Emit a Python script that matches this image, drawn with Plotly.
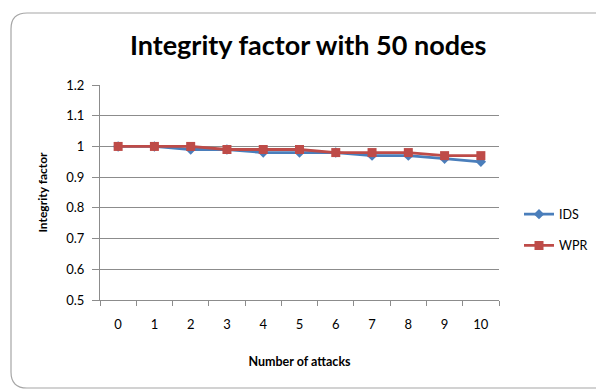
import plotly.graph_objects as go

attacks = ["0", "1", "2", "3", "4", "5", "6", "7", "8", "9", "10"]
ids_values = [1.0, 1.0, 0.99, 0.99, 0.98, 0.98, 0.98, 0.97, 0.97, 0.96, 0.95]
wpr_values = [1.0, 1.0, 1.0, 0.99, 0.99, 0.99, 0.98, 0.98, 0.98, 0.97, 0.97]
y_ticks = [0.5, 0.6, 0.7, 0.8, 0.9, 1.0, 1.1, 1.2]
y_tick_text = ["0.5", "0.6", "0.7", "0.8", "0.9", "1", "1.1", "1.2"]

W, H = 596, 390
ML, MR, MT, MB = 100, 97, 85, 90
FONT = "Lato, 'Open Sans', sans-serif"
GRID = "#8c8c8c"

fig = go.Figure()
fig.add_trace(go.Scatter(
    x=attacks, y=ids_values, name="IDS", mode="lines+markers",
    line=dict(color="#4A7EBB", width=2.8),
    marker=dict(symbol="diamond", size=8, color="#4A7EBB"),
    legendgroup="a",
))
fig.add_trace(go.Scatter(
    x=attacks, y=wpr_values, name="WPR", mode="lines+markers",
    line=dict(color="#BE4B48", width=2.8),
    marker=dict(symbol="square", size=9, color="#BE4B48"),
    legendgroup="b",
))

# rounded chart-area border (pixel positions converted to paper coordinates)
pw, ph = W - ML - MR, H - MT - MB


def px(x):
    return (x - ML) / pw


def py(y):
    return 1 - (y - MT) / ph


left, top, right, bottom, r = 11, 13, 640, 388, 16
path = (
    f"M {px(right)},{py(bottom)} L {px(left + r)},{py(bottom)} "
    f"Q {px(left)},{py(bottom)} {px(left)},{py(bottom - r)} "
    f"L {px(left)},{py(top + r)} "
    f"Q {px(left)},{py(top)} {px(left + r)},{py(top)} "
    f"L {px(right)},{py(top)}"
)
fig.add_shape(type="path", path=path, xref="paper", yref="paper",
              line=dict(color="#a6a6a6", width=1.2), layer="below")

fig.update_layout(
    width=W, height=H,
    margin=dict(l=ML, r=MR, t=MT, b=MB, autoexpand=False),
    paper_bgcolor="white", plot_bgcolor="white",
    font=dict(family=FONT, color="#000000"),
    title=dict(text="<b>Integrity factor with 50 nodes</b>",
               font=dict(size=27, family=FONT, color="#000000"),
               x=0.517, xanchor="center", xref="container",
               y=1 - 46 / H, yanchor="middle", yref="container"),
    legend=dict(x=519 / W, xanchor="left", xref="container",
                y=1 - 230 / H, yanchor="middle", yref="container",
                font=dict(size=12.5, family=FONT), tracegroupgap=12,
                itemwidth=30, bgcolor="rgba(0,0,0,0)"),
    showlegend=True,
)
fig.update_xaxes(
    type="category", tickson="boundaries",
    showgrid=False, showline=True, linecolor=GRID, linewidth=1,
    ticks="outside", ticklen=5, tickcolor=GRID,
    tickfont=dict(size=13, family=FONT), ticklabelstandoff=12,
    title=dict(text="<b>Number of attacks</b>", font=dict(size=12.5, family=FONT), standoff=26),
    range=[-0.5, 10.5], automargin=False,
)
fig.update_yaxes(
    range=[0.5, 1.2], tickvals=y_ticks, ticktext=y_tick_text,
    showgrid=True, gridcolor=GRID, gridwidth=1,
    showline=True, linecolor=GRID, linewidth=1,
    ticks="outside", ticklen=7, tickcolor=GRID,
    tickfont=dict(size=13, family=FONT), ticklabelstandoff=5,
    zeroline=False, automargin=False,
    title=dict(text="<b>Integrity factor</b>", font=dict(size=12, family=FONT), standoff=16),
)

fig.write_html("out.html")
